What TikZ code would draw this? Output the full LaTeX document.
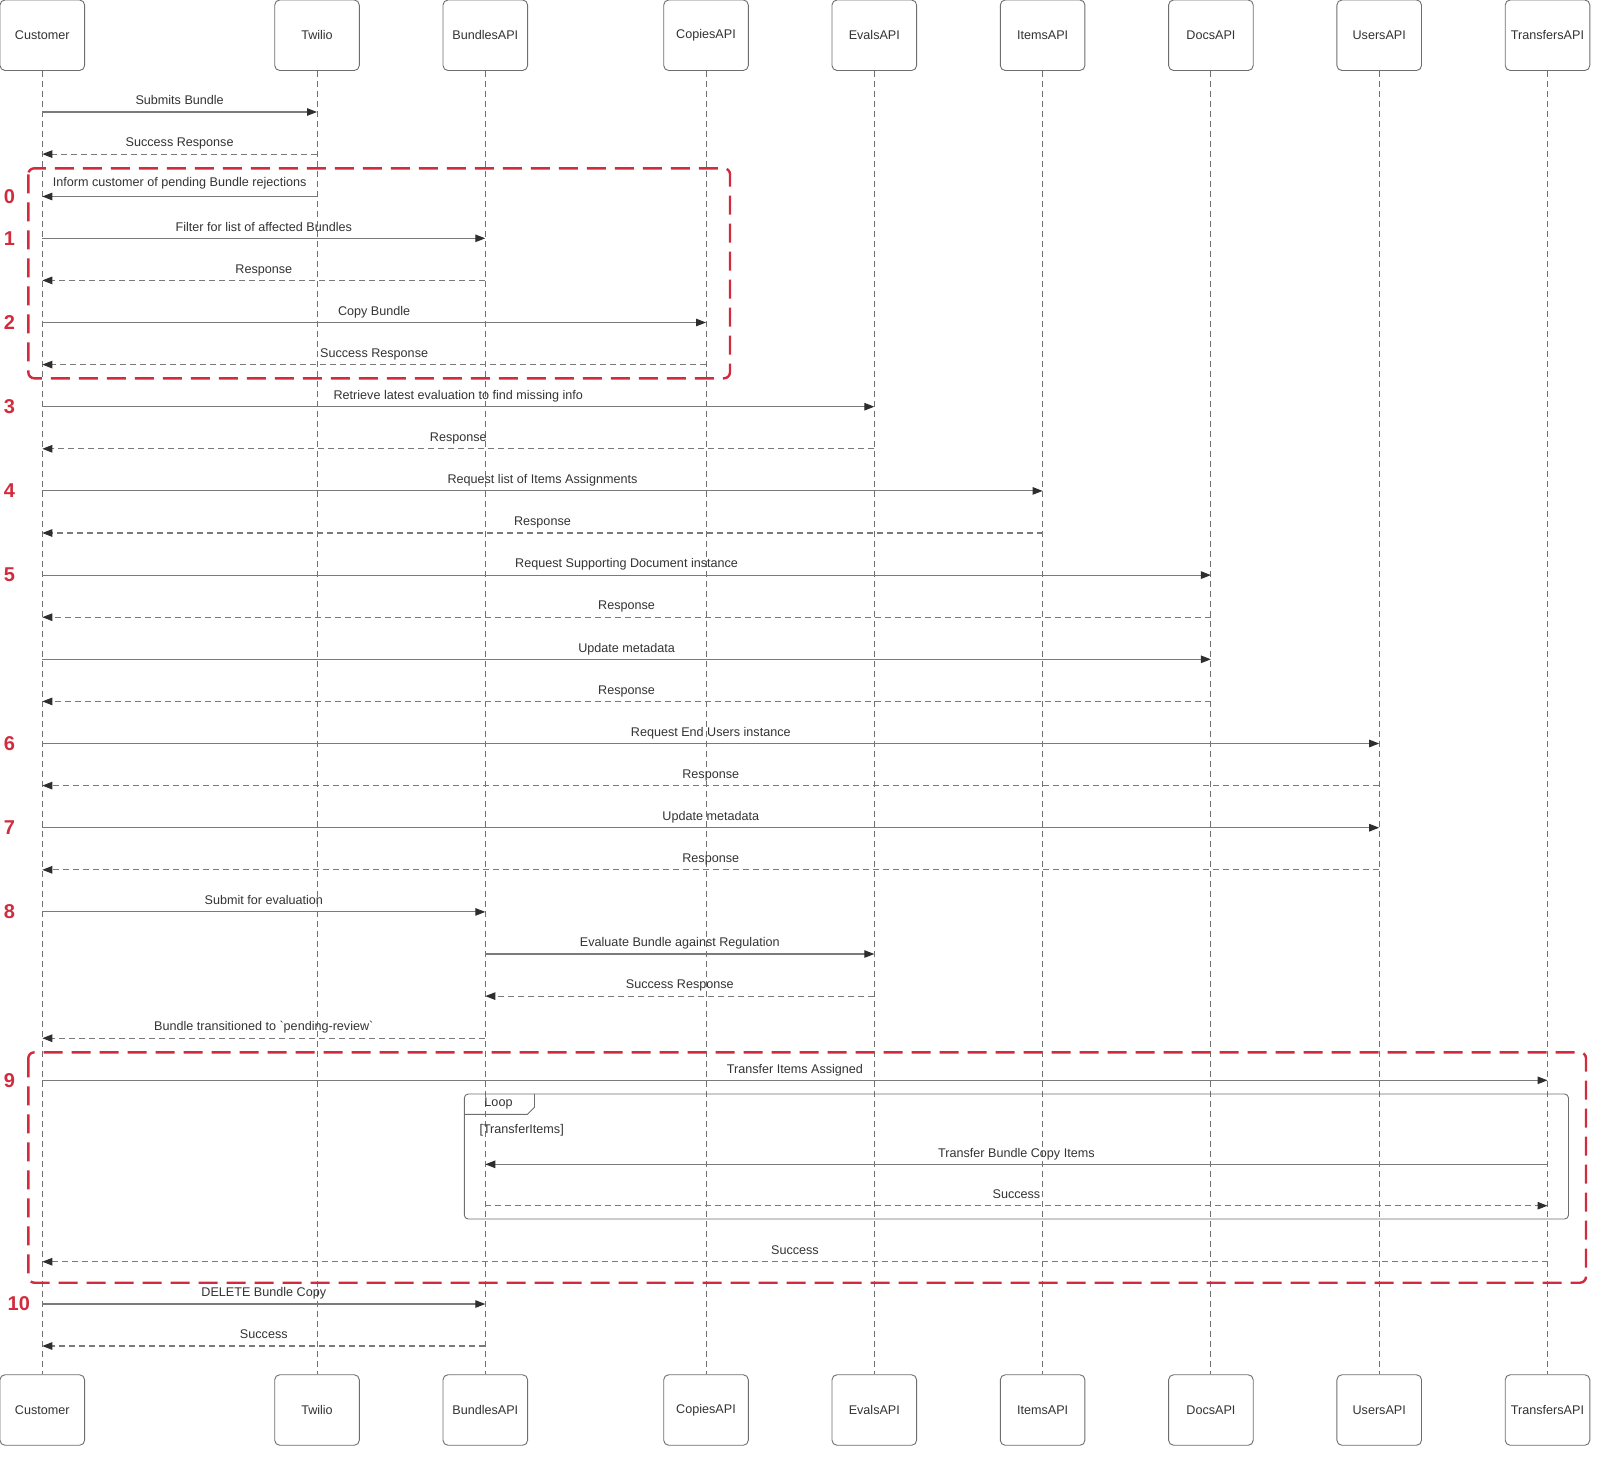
\documentclass[tikz,border=0pt]{standalone}
\usepackage{fontspec}
\setmainfont{Liberation Sans}
\usetikzlibrary{arrows.meta,calc}
\definecolor{boxc}{HTML}{6E6E6E}
\definecolor{linec}{HTML}{7A7A7A}
\definecolor{lifec}{HTML}{707070}
\definecolor{headc}{HTML}{2E2E2E}
\definecolor{txtc}{HTML}{333333}
\definecolor{redc}{HTML}{D22B3D}
\newcommand{\lbfont}{\fontsize{12.6}{14}\selectfont}
\newcommand{\msgline}[6]{%
  \draw[#1] (#2 |- 0,#4) -- node[lbl, midway, yshift=#6]{#5} (#3 |- 0,#4);}
\tikzset{
  actor/.style={draw=boxc, rounded corners=5pt, minimum width=84.6pt, minimum height=70.5pt,
    inner sep=0pt, font=\lbfont, text=txtc, line width=0.9pt, fill=white},
  life/.style={draw=lifec, line width=0.9pt, dash pattern=on 6pt off 4pt},
  lbl/.style={font=\lbfont, text=txtc, inner sep=0pt, text height=9pt, text depth=2.5pt},
  call/.style={draw=linec, line width=1.1pt, -{Triangle[length=10pt,width=7.5pt,color=headc]}},
  reply/.style={draw=linec, line width=1.1pt, dash pattern=on 6pt off 4pt,
    -{Triangle[length=10pt,width=7.5pt,color=headc]}},
  redbox/.style={draw=redc, line width=2.4pt, dash pattern=on 19pt off 9pt, rounded corners=6pt},
  num/.style={font=\fontsize{20}{24}\selectfont\bfseries, text=redc, inner sep=0pt, anchor=west},
  frame/.style={draw=boxc, line width=0.9pt},
}
\begin{document}
\begin{tikzpicture}[x=1pt,y=-1pt]
\useasboundingbox (0,0) rectangle (1600,1462);
% top actors
\node[actor] (ct) at (42.3,35.25) {Customer};
\node[actor] (tt) at (317,35.25) {Twilio};
\node[actor] (bt) at (485.3,35.25) {BundlesAPI};
\node[actor] (cot) at (706,35.25) {CopiesAPI};
\node[actor] (et) at (874.3,35.25) {EvalsAPI};
\node[actor] (it) at (1042.6,35.25) {ItemsAPI};
\node[actor] (dt) at (1210.9,35.25) {DocsAPI};
\node[actor] (ut) at (1379.2,35.25) {UsersAPI};
\node[actor] (trt) at (1547.5,35.25) {TransfersAPI};
% bottom actors
\node[actor] (cb) at (42.3,1410) {Customer};
\node[actor] (tb) at (317,1410) {Twilio};
\node[actor] (bb) at (485.3,1410) {BundlesAPI};
\node[actor] (cob) at (706,1410) {CopiesAPI};
\node[actor] (eb) at (874.3,1410) {EvalsAPI};
\node[actor] (ib) at (1042.6,1410) {ItemsAPI};
\node[actor] (db) at (1210.9,1410) {DocsAPI};
\node[actor] (ub) at (1379.2,1410) {UsersAPI};
\node[actor] (trb) at (1547.5,1410) {TransfersAPI};
% lifelines
\foreach \a/\b in {ct/cb, tt/tb, bt/bb, cot/cob, et/eb, it/ib, dt/db, ut/ub, trt/trb}
  \draw[life] (\a.south) -- (\b.north);
% loop frame
\draw[frame, rounded corners=4pt] (464.3,1094) rectangle (1568.5,1219);
\draw[frame] (464.3,1114.3) -- (527.5,1114.3) -- (534.5,1107.3) -- (534.5,1094);
\node[lbl] (looplbl) at (498.5,1103.5) {Loop};
\node[lbl, anchor=west] (loopcond) at (479.3,1130) {[TransferItems]};
% red groups
\draw[redbox] (28.3,168.3) rectangle (730,378.3);
\draw[redbox] (28.3,1052.3) rectangle (1586,1282.7);
% messages
\msgline{call}{ct}{tt}{112}{Submits Bundle}{10.5pt}
\msgline{reply}{tt}{ct}{154.1}{Success Response}{10.5pt}
\msgline{call}{tt}{ct}{196.5}{Inform customer of pending Bundle rejections}{13pt}
\msgline{call}{ct}{bt}{238.3}{Filter for list of affected Bundles}{10.5pt}
\msgline{reply}{bt}{ct}{280.4}{Response}{10.5pt}
\msgline{call}{ct}{cot}{322.5}{Copy Bundle}{10.5pt}
\msgline{reply}{cot}{ct}{364.6}{Success Response}{10.5pt}
\msgline{call}{ct}{et}{406.7}{Retrieve latest evaluation to find missing info}{10.5pt}
\msgline{reply}{et}{ct}{448.8}{Response}{10.5pt}
\msgline{call}{ct}{it}{490.9}{Request list of Items Assignments}{10.5pt}
\msgline{reply}{it}{ct}{533}{Response}{10.5pt}
\msgline{call}{ct}{dt}{575.1}{Request Supporting Document instance}{10.5pt}
\msgline{reply}{dt}{ct}{617.2}{Response}{10.5pt}
\msgline{call}{ct}{dt}{659.3}{Update metadata}{10.5pt}
\msgline{reply}{dt}{ct}{701.4}{Response}{10.5pt}
\msgline{call}{ct}{ut}{743.5}{Request End Users instance}{10.5pt}
\msgline{reply}{ut}{ct}{785.6}{Response}{10.5pt}
\msgline{call}{ct}{ut}{827.7}{Update metadata}{10.5pt}
\msgline{reply}{ut}{ct}{869.8}{Response}{10.5pt}
\msgline{call}{ct}{bt}{911.9}{Submit for evaluation}{10.5pt}
\msgline{call}{bt}{et}{954}{Evaluate Bundle against Regulation}{10.5pt}
\msgline{reply}{et}{bt}{996.1}{Success Response}{10.5pt}
\msgline{reply}{bt}{ct}{1038.2}{Bundle transitioned to \textasciigrave pending-review\textasciigrave}{10.5pt}
\msgline{call}{ct}{trt}{1080.3}{Transfer Items Assigned}{10.5pt}
\msgline{call}{trt}{bt}{1164.3}{Transfer Bundle Copy Items}{10.5pt}
\msgline{reply}{bt}{trt}{1205.7}{Success}{10.5pt}
\msgline{reply}{trt}{ct}{1261.7}{Success}{10.5pt}
\msgline{call}{ct}{bt}{1304}{DELETE Bundle Copy}{10.5pt}
\msgline{reply}{bt}{ct}{1346}{Success}{10.5pt}
% step numbers
\node[num] (n0) at (3.8,196.7) {0};
\node[num] (n1) at (3.8,238.3) {1};
\node[num] (n2) at (3.8,322.5) {2};
\node[num] (n3) at (3.8,406.7) {3};
\node[num] (n4) at (3.8,490.9) {4};
\node[num] (n5) at (3.8,575.1) {5};
\node[num] (n6) at (3.8,743.5) {6};
\node[num] (n7) at (3.8,827.7) {7};
\node[num] (n8) at (3.8,911.9) {8};
\node[num] (n9) at (3.8,1080.3) {9};
\node[num] (n10) at (7.5,1304) {10};
\end{tikzpicture}
\end{document}
